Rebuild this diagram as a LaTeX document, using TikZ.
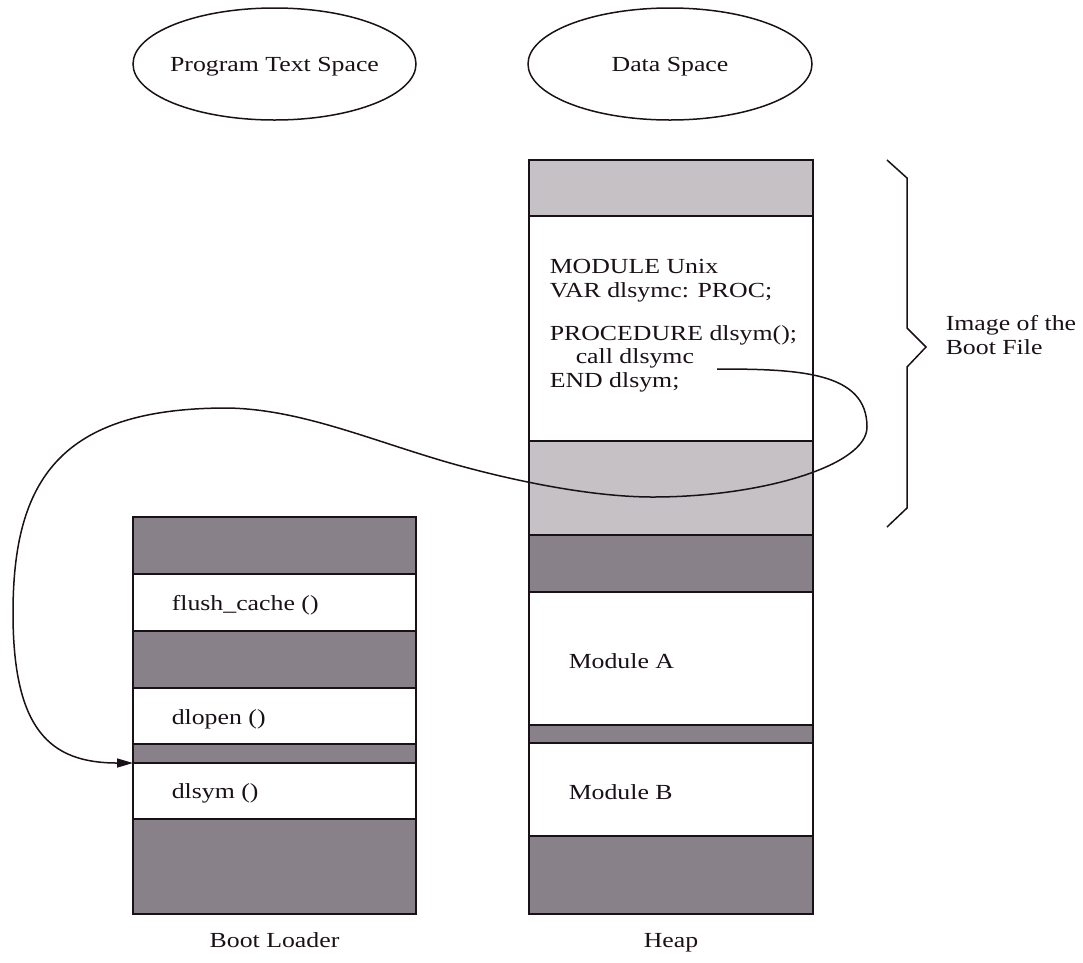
\documentclass[tikz,border=0pt]{standalone}
\usepackage{fontspec}
\setmainfont[FakeStretch=1.2]{Liberation Serif}
\usetikzlibrary{arrows.meta,shapes.geometric}
\definecolor{darkcell}{RGB}{137,129,137}
\definecolor{lightcell}{RGB}{198,193,196}
\definecolor{ink}{RGB}{26,16,24}
\begin{document}
\begin{tikzpicture}[x=1pt,y=-1pt,
  line width=1.5pt, draw=ink,
  every node/.style={text=ink},
  cell/.style={draw=ink, line width=1.5pt, inner sep=0pt, outer sep=0pt, anchor=north west},
  bootcell/.style={cell, minimum width=283pt},
  heapcell/.style={cell, minimum width=284pt},
  txt/.style={font=\fontsize{21.5}{23.5}\selectfont, inner sep=0pt, anchor=base west},
  ctxt/.style={font=\fontsize{21.5}{23.5}\selectfont, inner sep=0pt, anchor=base},
  spaceoutline/.style={draw=ink, line width=1.5pt, x radius=141.5pt, y radius=56pt},
  link/.style={draw=ink, line width=1.5pt, -{Triangle[length=16pt,width=9pt]}}
]
\useasboundingbox (0,0) rectangle (1083,962);

% top ellipses
\coordinate (ptsc) at (274.5,64);
\coordinate (dsc) at (670,64);
\draw[spaceoutline] (ptsc) ellipse [x radius=141.5pt, y radius=56pt];
\draw[spaceoutline] (dsc) ellipse [x radius=142pt, y radius=56pt];
\node[ctxt] (pts) at (274.5,71) {Program Text Space};
\node[ctxt] (ds) at (670,71) {Data Space};

% boot loader column
\node[bootcell, fill=darkcell, minimum height=57pt] (b1) at (133,517) {};
\node[bootcell, fill=white, minimum height=57pt] (b2) at (133,574) {};
\node[bootcell, fill=darkcell, minimum height=57pt] (b3) at (133,631) {};
\node[bootcell, fill=white, minimum height=56pt] (b4) at (133,688) {};
\node[bootcell, fill=darkcell, minimum height=19pt] (b5) at (133,744) {};
\node[bootcell, fill=white, minimum height=56pt] (b6) at (133,763) {};
\node[bootcell, fill=darkcell, minimum height=95pt] (b7) at (133,819) {};

\node[txt] (t2) at (171,610) {flush\_cache ()};
\node[txt] (t4) at (171,724) {dlopen ()};
\node[txt] (t6) at (171,798) {dlsym ()};

% heap column
\node[heapcell, fill=lightcell, minimum height=56pt] (h1) at (529,160) {};
\node[heapcell, fill=white, minimum height=225pt] (h2) at (529,216) {};
\node[heapcell, fill=lightcell, minimum height=94pt] (h3) at (529,441) {};
\node[heapcell, fill=darkcell, minimum height=57pt] (h4) at (529,535) {};
\node[heapcell, fill=white, minimum height=133pt] (h5) at (529,592) {};
\node[heapcell, fill=darkcell, minimum height=18pt] (h6) at (529,725) {};
\node[heapcell, fill=white, minimum height=93pt] (h7) at (529,743) {};
\node[heapcell, fill=darkcell, minimum height=78pt] (h8) at (529,836) {};

\node[txt] (c1) at (549,273) {MODULE Unix};
\node[txt] (c2) at (549,297) {VAR dlsymc: PROC;};
\node[txt] (c3) at (549,340) {PROCEDURE dlsym();};
\node[txt] (c4) at (575,363) {call dlsymc};
\node[txt] (c5) at (549,387) {END dlsym;};

\node[txt] (ma) at (568,668) {Module A};
\node[txt] (mb) at (568,799) {Module B};

% bottom labels
\node[ctxt] (bl) at (274.5,947) {Boot Loader};
\node[ctxt] (hp) at (671,947) {Heap};

% brace
\draw[line width=1.5pt] (887,160) -- (907,178) -- (907,328) -- (926,347) -- (907,367) -- (907,508) -- (887,527);
\node[txt] (im1) at (945,330) {Image of the};
\node[txt] (im2) at (945,354) {Boot File};

% connector
\coordinate (cs) at (717,369);
\path[link] (cs) .. controls (800,369) and (867,372) .. (867,427)
  .. controls (867,466) and (760,497) .. (653,497)
  .. controls (590,497) and (510,480) .. (450,463)
  .. controls (370,440) and (300,409) .. (227,408)
  .. controls (60,408) and (13,480) .. (13,613)
  .. controls (13,730) and (50,763) .. (b6.north west);
\end{tikzpicture}
\end{document}
